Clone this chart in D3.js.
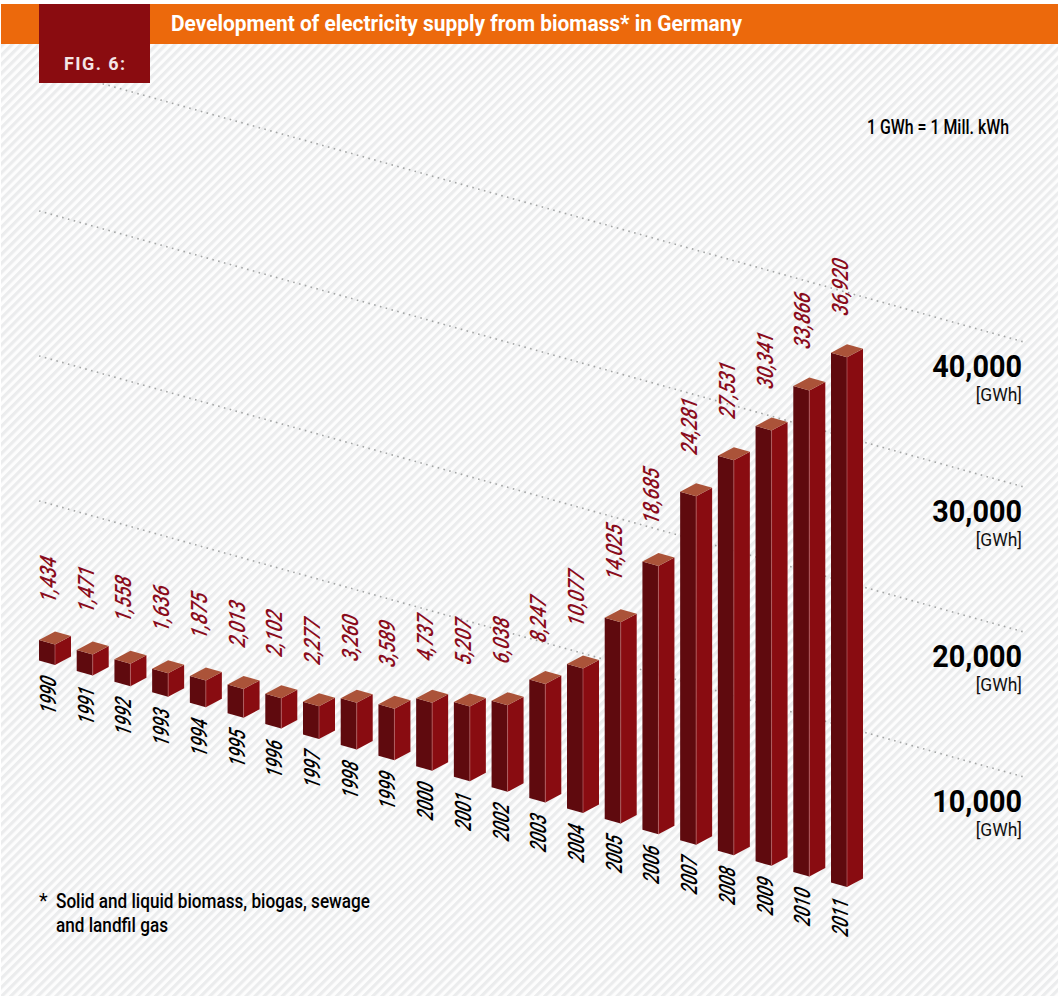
<!DOCTYPE html>
<html lang="en">
<head>
<meta charset="utf-8">
<title>Development of electricity supply from biomass</title>
<script src="https://cdn.jsdelivr.net/npm/d3@7"></script>
<style>
html, body { margin: 0; padding: 0; background: #fff; }
svg { display: block; }
text { font-family: Roboto, "Liberation Sans", sans-serif; }
</style>
</head>
<body>
<div id="chart"></div>
<script>
// values
var years = [1990, 1991, 1992, 1993, 1994, 1995, 1996, 1997, 1998, 1999, 2000,
             2001, 2002, 2003, 2004, 2005, 2006, 2007, 2008, 2009, 2010, 2011];
var gwh = [1434, 1471, 1558, 1636, 1875, 2013, 2102, 2277, 3260, 3589, 4737,
           5207, 6038, 8247, 10077, 14025, 18685, 24281, 27531, 30341, 33866, 36920];
var gridValues = [10000, 20000, 30000, 40000];
var title = "Development of electricity supply from biomass* in Germany";

var width = 1058, height = 996;
var fmt = d3.format(",");

var svg = d3.select("#chart").append("svg")
  .attr("width", width).attr("height", height);

// striped background
var pat = svg.append("defs").append("pattern")
  .attr("id", "stripes").attr("patternUnits", "userSpaceOnUse")
  .attr("width", 6.4).attr("height", 6.4)
  .attr("patternTransform", "rotate(45)");
pat.append("rect").attr("width", 6.4).attr("height", 6.4).attr("fill", "#fdfdfd");
pat.append("rect").attr("width", 3.2).attr("height", 6.4).attr("fill", "#ebeced");

svg.append("rect").attr("x", 1).attr("y", 44).attr("width", width - 1).attr("height", height - 44)
  .attr("fill", "url(#stripes)");

// the front corner of each bar walks down and right with the year
var x = d3.scaleLinear().domain([1990, 2011]).range([55, 847]);
var yBase = d3.scaleLinear().domain([1990, 2011]).range([665, 887]);
var barH = d3.scaleLinear().domain([0, 40000]).range([0, 574]);
var gridRight = d3.scaleLinear().domain([10000, 40000]).range([777, 342]);

var gridX0 = 39, gridX1 = 1024;

// dotted grid lines
var slope = (yBase(2011) - yBase(1990)) / (x(2011) - x(1990));
svg.append("g").selectAll("line")
  .data(gridValues)
  .join("line")
  .attr("x1", gridX0)
  .attr("x2", gridX1)
  .attr("y1", function(d) { return gridRight(d) - (gridX1 - gridX0) * slope; })
  .attr("y2", function(d) { return gridRight(d); })
  .attr("stroke", "#a3a5a5")
  .attr("stroke-width", 1.6)
  .attr("stroke-dasharray", "1.6 4.4");

// axis labels
gridValues.forEach(function(v) {
  svg.append("text")
    .attr("transform", "translate(1022," + (gridRight(v) + 35) + ") scale(0.93,1)")
    .attr("text-anchor", "end")
    .attr("font-size", 31)
    .attr("font-weight", "bold")
    .attr("fill", "#000")
    .text(fmt(v));
  svg.append("text")
    .attr("transform", "translate(1022," + (gridRight(v) + 59) + ") scale(0.92,1)")
    .attr("text-anchor", "end")
    .attr("font-size", 19)
    .attr("fill", "#111")
    .text("[GWh]");
});

// 3d bars
var halfW = 16, rise = 4.5, fall = 8.5;
var rows = years.map(function(y, i) { return { year: y, value: gwh[i] }; });

function pts(a) { return a.map(function(p) { return p.join(","); }).join(" "); }

var bar = svg.append("g").selectAll("g")
  .data(rows)
  .join("g")
  .attr("transform", function(d) { return "translate(" + x(d.year) + "," + yBase(d.year) + ")"; });

bar.append("polygon")
  .attr("fill", "#5f0a0e")
  .attr("points", function(d) {
    var h = barH(d.value);
    return pts([[-halfW, -rise], [0, 0], [0, -h], [-halfW, -h - rise]]);
  });
bar.append("polygon")
  .attr("fill", "#890c11")
  .attr("points", function(d) {
    var h = barH(d.value);
    return pts([[0, 0], [halfW, -fall], [halfW, -h - fall], [0, -h]]);
  });
bar.append("polygon")
  .attr("fill", "#ab5339")
  .attr("points", function(d) {
    var h = barH(d.value);
    return pts([[0, -h], [halfW, -h - fall], [0, -h - rise - fall], [-halfW, -h - rise]]);
  });
bar.append("line")
  .attr("x1", 0).attr("x2", 0).attr("y1", 0)
  .attr("y2", function(d) { return -barH(d.value); })
  .attr("stroke", "#b9686a").attr("stroke-width", 0.7);

// labels run straight up, with the glyphs sheared like the bar tops
bar.append("text")
  .attr("transform", function(d) {
    return "matrix(0,-0.76,0.94,0.35,1," + (-barH(d.value) - 40) + ")";
  })
  .attr("font-size", 24)
  .attr("font-weight", 500)
  .attr("fill", "#8a0c1c")
  .text(function(d) { return fmt(d.value); });

bar.append("text")
  .attr("transform", "matrix(0,-0.68,0.94,0.35,1,51)")
  .attr("font-size", 24)
  .attr("font-weight", 500)
  .attr("fill", "#000")
  .text(function(d) { return d.year; });

// header
svg.append("rect").attr("x", 1).attr("y", 4).attr("width", width - 1).attr("height", 40).attr("fill", "#ec690c");
svg.append("rect").attr("x", 39).attr("y", 4).attr("width", 111).attr("height", 79).attr("fill", "#8a0c10");
svg.append("text")
  .attr("x", 171).attr("y", 31)
  .attr("font-size", 22).attr("font-weight", "bold").attr("fill", "#fff")
  .attr("textLength", 571).attr("lengthAdjust", "spacingAndGlyphs")
  .text(title);
svg.append("text")
  .attr("x", 64).attr("y", 70)
  .attr("font-size", 18).attr("font-weight", "bold").attr("fill", "#f4e6e6")
  .attr("textLength", 61).attr("lengthAdjust", "spacing")
  .text("FIG. 6:");

// notes
svg.append("text")
  .attr("x", 867).attr("y", 134)
  .attr("font-size", 20).attr("font-weight", 500).attr("fill", "#000")
  .attr("textLength", 142).attr("lengthAdjust", "spacingAndGlyphs")
  .text("1 GWh = 1 Mill. kWh");
svg.append("text").attr("x", 39).attr("y", 908).attr("font-size", 20).attr("fill", "#000").text("*");
svg.append("text")
  .attr("x", 56).attr("y", 908)
  .attr("font-size", 20).attr("font-weight", 500).attr("fill", "#000")
  .attr("textLength", 314).attr("lengthAdjust", "spacingAndGlyphs")
  .text("Solid and liquid biomass, biogas, sewage");
svg.append("text")
  .attr("x", 56).attr("y", 932)
  .attr("font-size", 20).attr("font-weight", 500).attr("fill", "#000")
  .attr("textLength", 112).attr("lengthAdjust", "spacingAndGlyphs")
  .text("and landfil gas");
</script>
</body>
</html>
